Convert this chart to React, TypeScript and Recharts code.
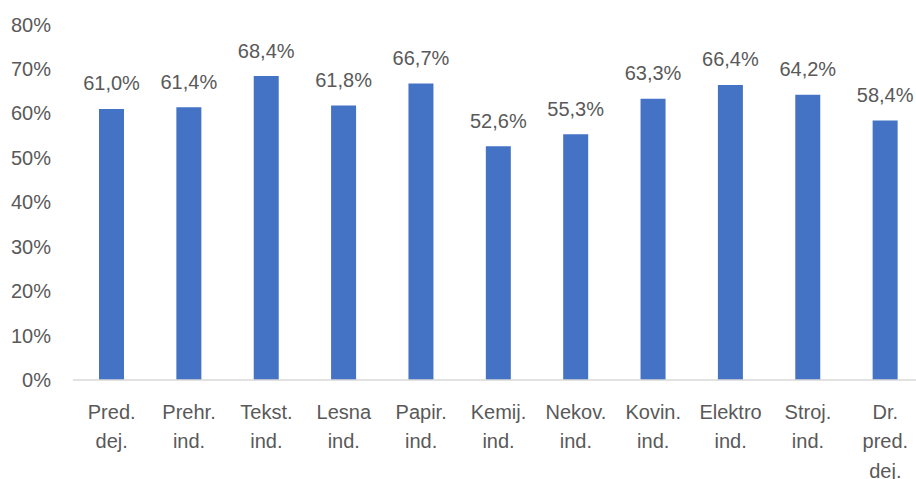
import React from "react";
import { BarChart, Bar, XAxis, YAxis, LabelList } from "recharts";

const categories = [
  "Pred. dej.",
  "Prehr. ind.",
  "Tekst. ind.",
  "Lesna ind.",
  "Papir. ind.",
  "Kemij. ind.",
  "Nekov. ind.",
  "Kovin. ind.",
  "Elektro ind.",
  "Stroj. ind.",
  "Dr. pred. dej.",
];
const values = [61.0, 61.4, 68.4, 61.8, 66.7, 52.6, 55.3, 63.3, 66.4, 64.2, 58.4];
const yTicks = [0, 10, 20, 30, 40, 50, 60, 70, 80];

const data = categories.map((c, i) => ({ name: c, value: values[i] }));

const FONT = "'Liberation Sans', Arial, sans-serif";
const TEXT = "#595959";

const XTick = (props: any) => {
  const { x, y, payload } = props;
  const words = String(payload.value).split(" ");
  return (
    <text x={x} y={y} textAnchor="middle" fill={TEXT} fontSize={20} fontFamily={FONT}>
      {words.map((w: string, i: number) => (
        <tspan key={i} x={x} dy={i === 0 ? 30.5 : 29.5}>
          {w}
        </tspan>
      ))}
    </text>
  );
};

const fmtLabel = (v: any) => `${Number(v).toFixed(1).replace(".", ",")}%`;

export default function App() {
  return (
    <div
      style={{
        position: "fixed",
        left: 0,
        top: 0,
        width: 916,
        height: 479,
        overflow: "hidden",
        background: "#fff",
      }}
    >
      <BarChart
        width={924}
        height={479}
        data={data}
        margin={{ top: 24.5, right: 0, bottom: 0, left: 0 }}
      >
        <XAxis
          dataKey="name"
          interval={0}
          tick={<XTick />}
          tickLine={false}
          axisLine={{ stroke: "#D9D9D9", strokeWidth: 1.5 }}
          height={99}
        />
        <YAxis
          domain={[0, 80]}
          ticks={yTicks}
          tickFormatter={(v: number) => `${v}%`}
          axisLine={false}
          tickLine={false}
          tickMargin={16}
          width={73}
          tick={{ fill: TEXT, fontSize: 20, fontFamily: FONT }}
          interval={0}
        />
        <Bar dataKey="value" fill="#4472C4" barSize={25} isAnimationActive={false}>
          <LabelList
            dataKey="value"
            position="top"
            offset={18.5}
            formatter={fmtLabel}
            fill={TEXT}
            fontSize={20}
            fontFamily={FONT}
          />
        </Bar>
      </BarChart>
    </div>
  );
}
